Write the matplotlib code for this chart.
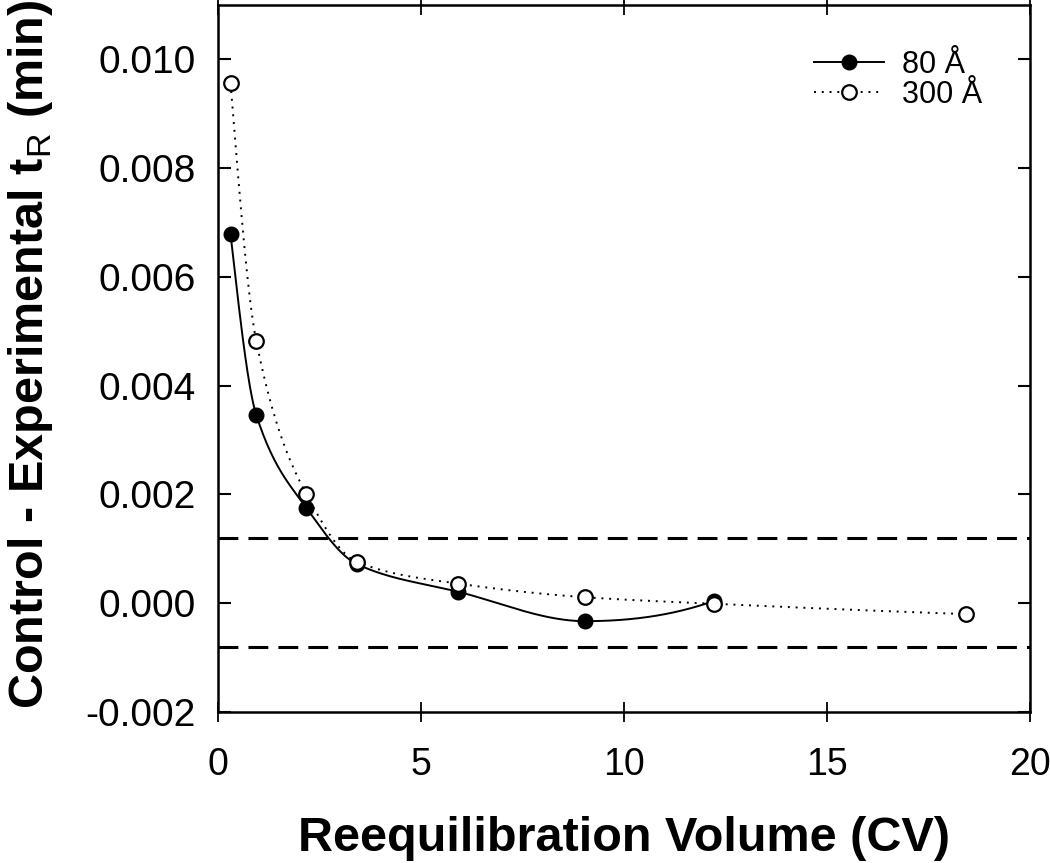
import numpy as np
import matplotlib
matplotlib.use("Agg")
import matplotlib.pyplot as plt

plt.rcParams['font.family'] = ['Liberation Sans', 'DejaVu Sans']
plt.rcParams['mathtext.fontset'] = 'custom'
plt.rcParams['mathtext.rm'] = 'Liberation Sans'

# data
cv_80 = [0.31, 0.94, 2.18, 3.42, 5.92, 9.04, 12.21]
dtr_80 = [0.00678, 0.00347, 0.00175, 0.00072, 0.00021, -0.00033, 0.00004]
cv_300 = [0.31, 0.94, 2.18, 3.42, 5.92, 9.04, 12.21, 18.42]
dtr_300 = [0.00956, 0.00483, 0.00200, 0.00076, 0.00036, 0.00011, -0.00001, -0.00020]
upper_lim = 0.0012
lower_lim = -0.0008
labels = ['80 Å', '300 Å']


def pchip(x, y, xs):
    # shape preserving cubic curve, like the smooth line in SigmaPlot
    x = np.asarray(x, float)
    y = np.asarray(y, float)
    h = np.diff(x)
    d = np.diff(y) / h
    n = len(x)
    m = np.zeros(n)
    for k in range(1, n - 1):
        if d[k - 1] * d[k] > 0:
            w1 = 2 * h[k] + h[k - 1]
            w2 = h[k] + 2 * h[k - 1]
            m[k] = (w1 + w2) / (w1 / d[k - 1] + w2 / d[k])

    def end(h0, h1, d0, d1):
        s = ((2 * h0 + h1) * d0 - h0 * d1) / (h0 + h1)
        if np.sign(s) != np.sign(d0):
            return 0.0
        if np.sign(d0) != np.sign(d1) and abs(s) > abs(3 * d0):
            return 3 * d0
        return s

    m[0] = end(h[0], h[1], d[0], d[1])
    m[-1] = end(h[-1], h[-2], d[-1], d[-2])
    idx = np.clip(np.searchsorted(x, xs) - 1, 0, n - 2)
    t = (xs - x[idx]) / h[idx]
    h00 = 2 * t**3 - 3 * t**2 + 1
    h10 = t**3 - 2 * t**2 + t
    h01 = -2 * t**3 + 3 * t**2
    h11 = t**3 - t**2
    return h00 * y[idx] + h10 * h[idx] * m[idx] + h01 * y[idx + 1] + h11 * h[idx] * m[idx + 1]


fig = plt.figure(figsize=(10.5, 8.63), dpi=100)
ax = fig.add_axes([0.2076, 0.175, 0.7734, 0.8192])

ax.axhline(upper_lim, color='black', lw=2.2, dashes=(6.5, 3.3))
ax.axhline(lower_lim, color='black', lw=2.2, dashes=(6.5, 3.3))

xs = np.linspace(cv_80[0], cv_80[-1], 400)
ax.plot(xs, pchip(cv_80, dtr_80, xs), color='black', lw=1.4)
xs = np.linspace(cv_300[0], cv_300[-1], 600)
ax.plot(xs, pchip(cv_300, dtr_300, xs), color='black', lw=1.4, ls=(0, (1, 3)))

ax.plot(cv_80, dtr_80, 'o', color='black', ms=10.5, zorder=3)
ax.plot(cv_300, dtr_300, 'o', mfc='white', mec='black', mew=1.6, ms=10.5, zorder=4)

# legend proxies
h1, = ax.plot([], [], color='black', lw=1.4, marker='o', ms=10.5)
h2, = ax.plot([], [], color='black', lw=1.4, ls=(0, (1, 3)), marker='o', ms=10.5,
              mfc='white', mec='black', mew=1.6)
ax.legend([h1, h2], labels, loc='upper right', bbox_to_anchor=(0.975, 0.975),
          frameon=False, prop={'size': 22},
          handlelength=2.3, handletextpad=0.6, labelspacing=0.0)

ax.set_xlim(0, 20)
ax.set_ylim(-0.002, 0.011)
ax.set_xticks([0, 5, 10, 15, 20])
ax.set_yticks([-0.002, 0.0, 0.002, 0.004, 0.006, 0.008, 0.010])
ax.set_yticklabels(['-0.002', '0.000', '0.002', '0.004', '0.006', '0.008', '0.010'])

for s in ax.spines.values():
    s.set_linewidth(1.8)
ax.tick_params(axis='y', direction='in', length=9, width=1.5, labelsize=28, pad=16,
               right=True)
ax.tick_params(axis='x', direction='inout', length=14, width=1.3, labelsize=27, pad=18,
               top=True)

ax.set_xlabel('Reequilibration Volume (CV)', fontsize=35, fontweight='bold')
ax.set_ylabel(r'Control - Experimental t$_\mathrm{R}$ (min)', fontsize=35,
              fontweight='bold')
ax.xaxis.set_label_coords(0.5, -0.197)
ax.xaxis.label.set_va('baseline')
ax.yaxis.set_label_coords(-0.2007, 0.506)

fig.savefig('out.png', dpi=100)
